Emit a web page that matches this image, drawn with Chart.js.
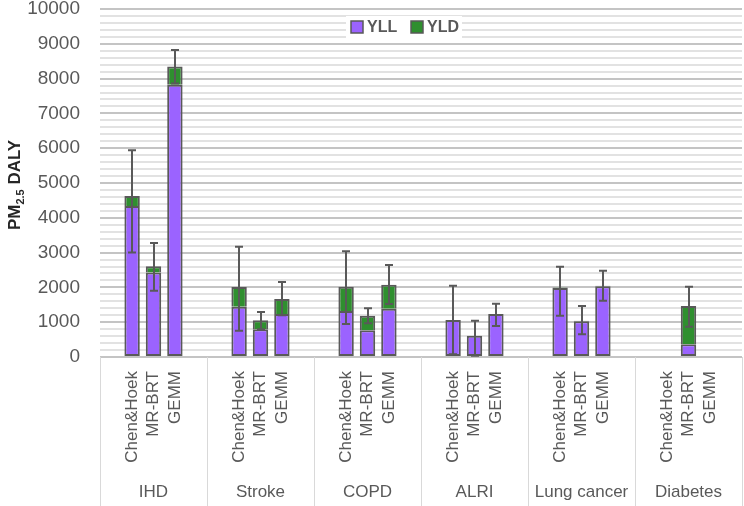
<!DOCTYPE html>
<html>
<head>
<meta charset="utf-8">
<script src="https://cdn.jsdelivr.net/npm/chart.js@4.4.1/dist/chart.umd.min.js"></script>
<style>
  html, body { margin: 0; padding: 0; background: #fff; }
  #wrap { width: 744px; height: 506px; }
</style>
</head>
<body>
<div id="wrap"><canvas id="chart"></canvas></div>
<script>
// categories
const diseases = ['IHD', 'Stroke', 'COPD', 'ALRI', 'Lung cancer', 'Diabetes'];
const models = ['Chen&Hoek', 'MR-BRT', 'GEMM'];

// values, in disease order, three models each (null = no bar)
const yll = [4340, 2430, 7820,  1445, 796, 1236,  1322, 767, 1388,  1063, 612, 1236,  1980, 1030, 2030,  null, 364, null];
const yld = [290, 180, 525,     565, 260, 430,    700, 420, 690,    0, 0, 0,           20, 15, 20,         null, 1100, null];
const errLow  = [3000, 1905, 7860,  756, 796, 1200,   948, 968, 1523,   78, 37, 891,    1187, 652, 1618,  null, 871, null];
const errHigh = [5940, 3276, 8822,  3170, 1293, 2155, 3037, 1399, 2644, 2049, 1043, 1532, 2595, 1466, 2480, null, 2020, null];

const yTicks = [0, 1000, 2000, 3000, 4000, 5000, 6000, 7000, 8000, 9000, 10000];

const FONT = "'Liberation Sans', Arial, sans-serif";
const GREY = '#595959';

// each disease gets 5 slots: blank, three models, blank
const labels = [], yllSlots = [], yldSlots = [], lowSlots = [], highSlots = [];
diseases.forEach((d, i) => {
  labels.push(''); yllSlots.push(null); yldSlots.push(null); lowSlots.push(null); highSlots.push(null);
  models.forEach((m, j) => {
    const k = i * 3 + j;
    labels.push(m);
    yllSlots.push(yll[k]);
    yldSlots.push(yld[k] ? yld[k] : null);
    lowSlots.push(errLow[k]);
    highSlots.push(errHigh[k]);
  });
  labels.push(''); yllSlots.push(null); yldSlots.push(null); lowSlots.push(null); highSlots.push(null);
});

const errorBars = {
  id: 'errorBars',
  afterDatasetsDraw(chart) {
    const ctx = chart.ctx, xs = chart.scales.x, ys = chart.scales.y;
    ctx.save();
    ctx.strokeStyle = GREY;
    ctx.lineWidth = 2;
    lowSlots.forEach((lo, i) => {
      if (lo == null) return;
      const x = Math.round(xs.getPixelForValue(i));
      const y1 = ys.getPixelForValue(lo), y2 = ys.getPixelForValue(highSlots[i]);
      ctx.beginPath();
      ctx.moveTo(x, y1); ctx.lineTo(x, y2);
      ctx.moveTo(x - 4, y1); ctx.lineTo(x + 4, y1);
      ctx.moveTo(x - 4, y2); ctx.lineTo(x + 4, y2);
      ctx.stroke();
    });
    ctx.restore();
  }
};

const extras = {
  id: 'extras',
  afterDraw(chart) {
    const ctx = chart.ctx, area = chart.chartArea;
    const h = chart.height;
    ctx.save();

    // group separators and disease names
    const slot = (area.right - area.left) / labels.length;
    ctx.strokeStyle = '#D9D9D9';
    ctx.lineWidth = 1;
    for (let g = 0; g <= diseases.length; g++) {
      const x = Math.round(area.left + g * 5 * slot) + 0.5;
      ctx.beginPath(); ctx.moveTo(x, area.bottom); ctx.lineTo(x, h); ctx.stroke();
    }
    ctx.fillStyle = GREY;
    ctx.font = '17px ' + FONT;
    ctx.textAlign = 'center';
    ctx.textBaseline = 'middle';
    diseases.forEach((d, g) => {
      ctx.fillText(d, area.left + (g * 5 + 2.5) * slot, 492);
    });

    // legend
    const items = [['YLL', '#9B63FF'], ['YLD', '#2F8F2F']];
    ctx.fillStyle = '#fff';
    ctx.fillRect(346, 16, 116, 22);
    ctx.font = 'bold 16px ' + FONT;
    ctx.textAlign = 'left';
    let lx = 351;
    items.forEach(([t, c]) => {
      ctx.fillStyle = c;
      ctx.fillRect(lx, 21, 12, 12);
      ctx.strokeStyle = GREY; ctx.lineWidth = 1.5;
      ctx.strokeRect(lx, 21, 12, 12);
      ctx.fillStyle = GREY;
      ctx.fillText(t, lx + 16, 28);
      lx += 60;
    });

    // y axis title with subscript
    ctx.translate(14, 185);
    ctx.rotate(-Math.PI / 2);
    ctx.fillStyle = '#262626';
    const big = 'bold 17px ' + FONT, small = 'bold 11px ' + FONT;
    ctx.font = big; const w1 = ctx.measureText('PM').width;
    ctx.font = small; const w2 = ctx.measureText('2.5').width;
    ctx.font = big; const w3 = ctx.measureText(' DALY').width;
    let tx = -(w1 + w2 + w3) / 2;
    ctx.textBaseline = 'alphabetic';
    ctx.fillText('PM', tx, 6); tx += w1;
    ctx.font = small; ctx.fillText('2.5', tx, 10); tx += w2;
    ctx.font = big; ctx.fillText(' DALY', tx, 6);
    ctx.restore();
  }
};

new Chart(document.getElementById('chart'), {
  type: 'bar',
  data: {
    labels: labels,
    datasets: [
      {
        label: 'YLL', data: yllSlots, backgroundColor: '#9B63FF',
        borderColor: GREY, borderWidth: 2, borderSkipped: false,
        barPercentage: 0.72, categoryPercentage: 1
      },
      {
        label: 'YLD', data: yldSlots, backgroundColor: '#2F8F2F',
        borderColor: GREY, borderWidth: { top: 2, left: 2, right: 2, bottom: 0 }, borderSkipped: false,
        barPercentage: 0.72, categoryPercentage: 1
      }
    ]
  },
  options: {
    responsive: true,
    maintainAspectRatio: false,
    animation: false,
    events: [],
    layout: { padding: { top: 9, right: 2, left: 0, bottom: 0 } },
    plugins: { legend: { display: false }, tooltip: { enabled: false } },
    scales: {
      x: {
        stacked: true,
        offset: true,
        grid: { display: false },
        border: { display: false },
        ticks: {
          autoSkip: false, minRotation: 90, maxRotation: 90, padding: 6,
          color: GREY, font: { size: 17, family: FONT }
        },
        afterFit: s => { s.height = 149; s.paddingLeft = 0; s.paddingRight = 0; }
      },
      y: {
        stacked: true,
        min: 0, max: 10000,
        ticks: {
          stepSize: 200, autoSkip: false, maxTicksLimit: 100, padding: 20,
          color: GREY, font: { size: 19, family: FONT },
          callback: v => yTicks.includes(v) ? v : ''
        },
        grid: {
          drawTicks: false, lineWidth: 2,
          color: c => (c.tick && c.tick.value % 1000 === 0) ? '#C4C4C4' : '#E2E2E2'
        },
        border: { display: false },
        afterFit: s => { s.width = 100; s.paddingTop = 0; s.paddingBottom = 0; }
      }
    }
  },
  plugins: [errorBars, extras]
});
</script>
</body>
</html>
